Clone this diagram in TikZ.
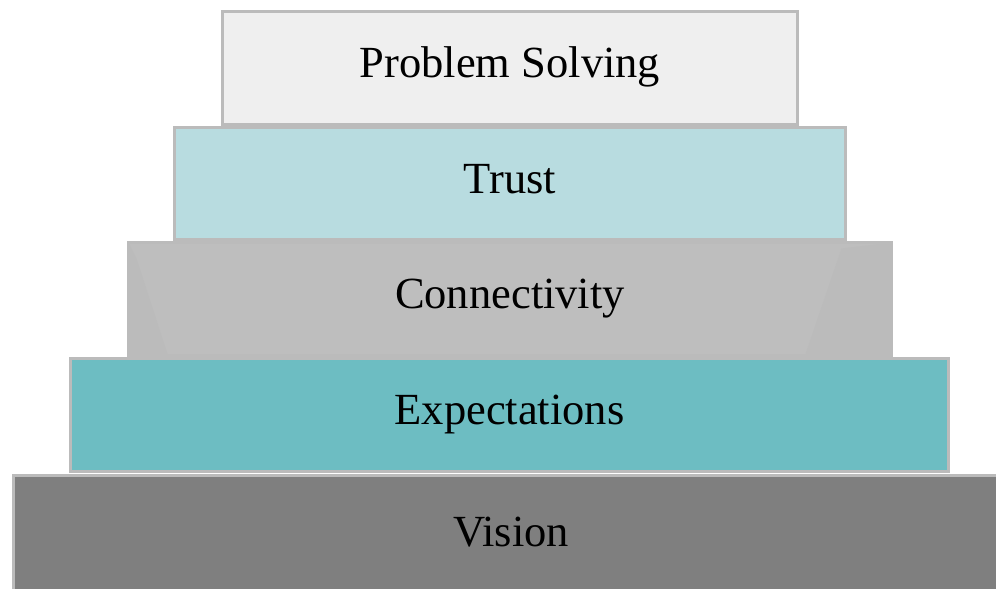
\documentclass[tikz,border=0pt]{standalone}
\usepackage{fontspec}
\setmainfont{Liberation Serif}
\begin{document}
\begin{tikzpicture}[x=1pt,y=-1pt,
  tierfont/.style={font=\fontsize{44.5}{50}\selectfont, text height=31pt, text depth=12pt},
  tier/.style={draw=edgegray, line width=3pt, rectangle, inner sep=0pt, tierfont}]
  \definecolor{edgegray}{HTML}{BBBBBB}
  \definecolor{tierA}{HTML}{EFEFEF}
  \definecolor{tierB}{HTML}{B8DCE0}
  \definecolor{tierC}{HTML}{BEBEBE}
  \definecolor{tierD}{HTML}{6DBDC2}
  \definecolor{tierE}{HTML}{7F7F7F}
  \definecolor{tierCside}{HTML}{BBBBBB}
  \useasboundingbox (0,0) rectangle (996,589);
  % base tier runs past the right and bottom edges
  \node[tier, fill=tierE, minimum width=995pt, minimum height=123pt] (vision) at (511,537) {Vision};
  \node[tier, fill=tierD, minimum width=878pt, minimum height=113pt] (expect) at (509.5,415) {Expectations};
  \node[tier, fill=tierC, minimum width=763pt, minimum height=113pt] (connect) at (510,299) {};
  % faint side facets on the connectivity tier
  \fill[tierCside] (connect.north west) ++(1.5,1.5) -- ++(8,16) -- (168,355.5) -- (128.5,355.5) -- cycle;
  \fill[tierCside] (connect.north east) ++(-1.5,1.5) -- ++(-50,6) -- (805,355.5) -- (891.5,355.5) -- cycle;
  \node[tierfont, inner sep=0pt] (connectlabel) at (connect.center) {Connectivity};
  \node[tier, fill=tierB, minimum width=671pt, minimum height=112pt] (trust) at (510,183.5) {Trust};
  \node[tier, fill=tierA, minimum width=575pt, minimum height=113pt] (problem) at (510,68) {Problem Solving};
\end{tikzpicture}
\end{document}
